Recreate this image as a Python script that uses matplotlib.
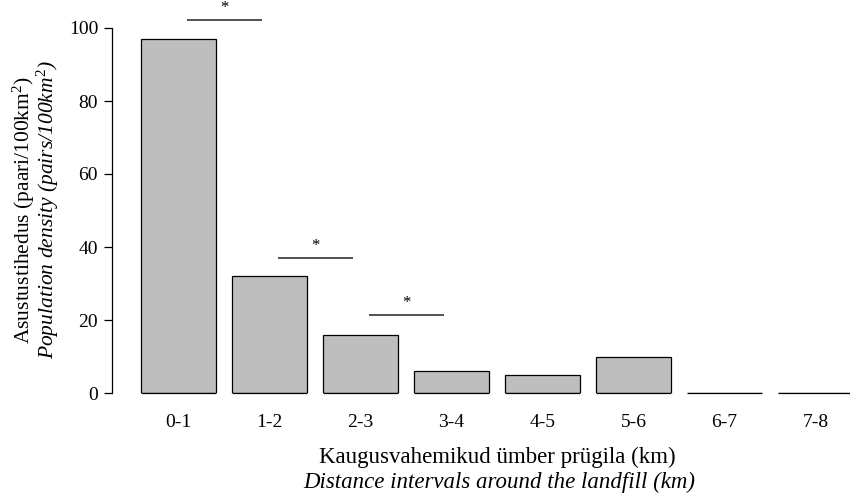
import matplotlib
matplotlib.use("Agg")
import matplotlib.pyplot as plt

plt.rcParams['font.family'] = ['Liberation Serif', 'DejaVu Serif']
plt.rcParams['mathtext.fontset'] = 'custom'
plt.rcParams['mathtext.rm'] = 'Liberation Serif'
plt.rcParams['mathtext.it'] = 'Liberation Serif:italic'

categories = ["0-1", "1-2", "2-3", "3-4", "4-5", "5-6", "6-7", "7-8"]
density = [97, 32, 16, 6, 5, 10, 0, 0]

# significance brackets: (left bar, right bar, height)
sig_pairs = [(0, 1, 102.2), (1, 2, 37), (2, 3, 21.4)]
sig_label = "*"

W, H = 850, 494
fig = plt.figure(figsize=(W / 100, H / 100), dpi=100)
ax = fig.add_axes([112 / W, (H - 393) / H, 1 - 112 / W, 365 / H])

x = list(range(len(categories)))
bw = 75 / 91
ax.bar(x, density, width=bw, color="#bebebe", edgecolor="black", linewidth=0.9)
# bar baselines, so empty classes still show as a flat line
ax.hlines([0] * len(x), [i - bw / 2 for i in x], [i + bw / 2 for i in x],
          color="black", lw=0.9, clip_on=False)

ax.set_xlim(-(178.5 - 112) / 91, (850 - 178.5) / 91)
ax.set_ylim(0, 100)

for sp in ("top", "right", "bottom"):
    ax.spines[sp].set_visible(False)
ax.spines["left"].set_bounds(0, 100)
ax.spines["left"].set_linewidth(0.9)
ax.set_yticks([0, 20, 40, 60, 80, 100])
ax.tick_params(axis="y", length=6, width=0.9, labelsize=14, pad=4)
ax.set_xticks(x)
ax.set_xticklabels(categories)
ax.tick_params(axis="x", length=0, labelsize=14, pad=15)

for a, b, h in sig_pairs:
    mid = (a + b) / 2
    ax.plot([mid - bw / 2, mid + bw / 2], [h, h], color="#222222", lw=1.1,
            clip_on=False, solid_capstyle="butt")
    ax.text(mid, h + 1.2, sig_label, ha="center", va="bottom", fontsize=12,
            clip_on=False)

fig.text(24 / W, 1 - 210 / H, r"Asustustihedus (paari/100km$^2$)",
         rotation=90, ha="center", va="center", fontsize=15.5)
fig.text(48 / W, 1 - 210 / H, r"Population density (pairs/100km$^2$)",
         rotation=90, ha="center", va="center", fontsize=15.5, style="italic")

fig.text(497 / W, 1 - 457 / H, "Kaugusvahemikud ümber prügila (km)",
         ha="center", va="center", fontsize=16.5)
fig.text(499 / W, 1 - 482 / H, "Distance intervals around the landfill (km)",
         ha="center", va="center", fontsize=16.5, style="italic")

fig.savefig("out.png", dpi=100)
